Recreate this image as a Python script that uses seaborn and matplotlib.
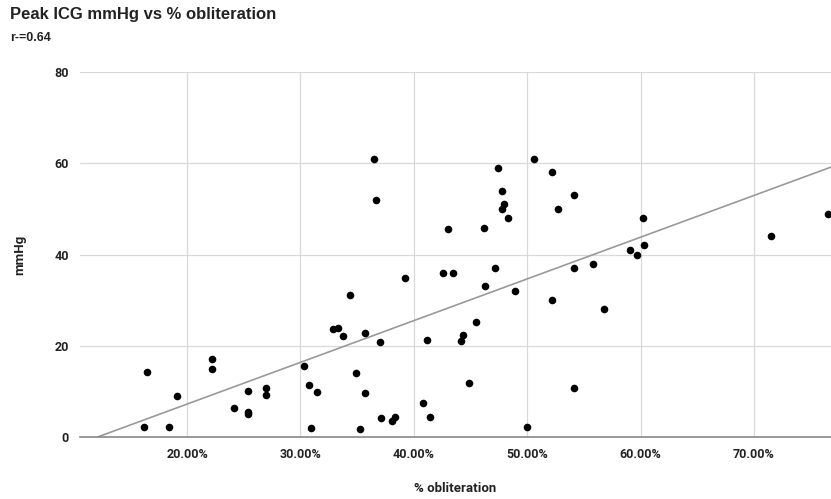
import matplotlib
matplotlib.use("Agg")
import matplotlib.pyplot as plt
import seaborn as sns
import pandas as pd
from matplotlib.ticker import PercentFormatter

# % obliteration (as fraction) and peak ICG mmHg
obliteration = [
    0.1645, 0.162, 0.184, 0.191, 0.222, 0.222, 0.241, 0.254, 0.254, 0.254,
    0.270, 0.270, 0.303, 0.308, 0.315, 0.309, 0.365, 0.367, 0.430, 0.462,
    0.474, 0.478, 0.480, 0.478, 0.483, 0.506, 0.392, 0.426, 0.435, 0.472,
    0.463, 0.489, 0.344, 0.329, 0.333, 0.338, 0.357, 0.370, 0.412, 0.443,
    0.442, 0.455, 0.349, 0.357, 0.449, 0.408, 0.371, 0.383, 0.381, 0.414,
    0.353, 0.500, 0.522, 0.541, 0.527, 0.602, 0.591, 0.597, 0.603, 0.541,
    0.558, 0.522, 0.568, 0.541, 0.715, 0.765,
]
mmhg = [
    14.2, 2.3, 2.2, 8.9, 17.1, 14.9, 6.3, 10.1, 5.5, 5.0,
    10.7, 9.3, 15.5, 11.5, 9.9, 1.9, 61.0, 51.9, 45.6, 45.7,
    58.9, 54.0, 51.0, 50.0, 47.9, 61.0, 34.9, 36.0, 36.0, 37.0,
    33.0, 32.0, 31.1, 23.7, 23.9, 22.2, 22.9, 20.9, 21.3, 22.3,
    21.0, 25.2, 14.1, 9.6, 11.9, 7.4, 4.2, 4.4, 3.4, 4.4,
    1.8, 2.3, 58.0, 53.0, 50.0, 47.9, 40.9, 40.0, 42.0, 37.0,
    37.9, 30.0, 28.0, 10.8, 44.0, 48.9,
]
x_ticks = [0.2, 0.3, 0.4, 0.5, 0.6, 0.7]
y_ticks = [0, 20, 40, 60, 80]

df = pd.DataFrame({"obliteration": obliteration, "mmHg": mmhg})

sns.set_theme(style="white")
plt.rcParams["font.family"] = ["Liberation Sans", "DejaVu Sans"]

fig = plt.figure(figsize=(8.31, 4.99), dpi=100)
ax = fig.add_axes([80 / 831, 1 - 437 / 499, 751 / 831, (437 - 72) / 499])
ax.set_xlim(0.1056, 0.768)
ax.set_ylim(0, 80)

sns.regplot(data=df, x="obliteration", y="mmHg", ax=ax, ci=None, truncate=False,
            scatter_kws=dict(color="black", s=30, linewidths=0, alpha=1, zorder=3),
            line_kws=dict(color="#999999", lw=1.2, zorder=2))

ax.set_xlim(0.1056, 0.768)
ax.set_ylim(0, 80)
ax.set_xticks(x_ticks)
ax.set_yticks(y_ticks)
ax.xaxis.set_major_formatter(PercentFormatter(xmax=1, decimals=2))
ax.grid(True, color="#d9d9d9", lw=0.9, zorder=0)
ax.set_axisbelow(True)
for s in ["left", "right", "top"]:
    ax.spines[s].set_visible(False)
ax.spines["bottom"].set_color("#888888")
ax.spines["bottom"].set_linewidth(1.2)
ax.tick_params(axis="both", length=0, labelsize=9, colors="#222222", pad=8)
for lab in ax.get_xticklabels() + ax.get_yticklabels():
    lab.set_fontweight("bold")
    lab.set_family(["Roboto", "DejaVu Sans"])

ax.set_xlabel("% obliteration", fontsize=9.5, fontweight="bold", color="#222222",
              family=["Roboto", "DejaVu Sans"], va="center")
ax.xaxis.set_label_coords(0.5, (437 - 488) / 365)
ax.set_ylabel("mmHg", fontsize=9.5, fontweight="bold", color="#222222",
              family=["Roboto", "DejaVu Sans"], va="center")
ax.yaxis.set_label_coords((20 - 80) / 751, 0.5)

fig.text(10 / 831, 1 - 15 / 499, "Peak ICG mmHg vs % obliteration", fontsize=12,
         fontweight="bold", color="#222222", va="center", ha="left")
fig.text(10 / 831, 1 - 38 / 499, "r-=0.64", fontsize=9, fontweight="bold",
         color="#222222", va="center", ha="left")

fig.savefig("out.png", dpi=100)
